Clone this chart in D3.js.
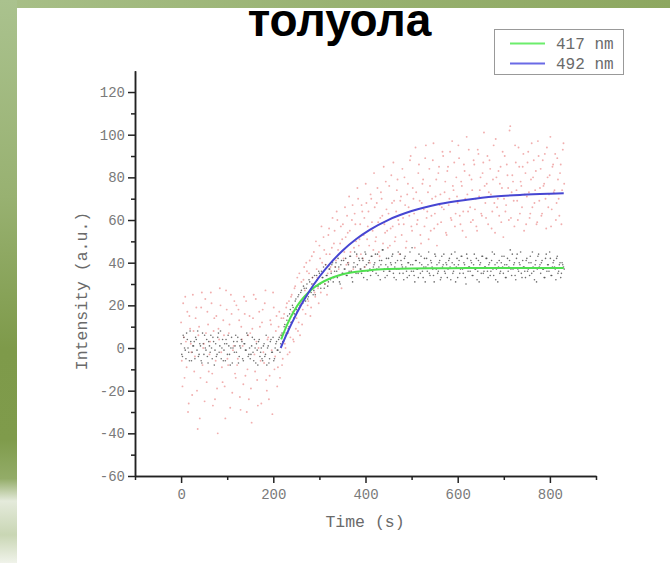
<!DOCTYPE html>
<html><head><meta charset="utf-8">
<script src="https://cdn.jsdelivr.net/npm/d3@7"></script>
<style>body{margin:0;background:#fff}svg{display:block}</style>
</head><body><svg id="c" width="670" height="563"></svg>
<script>
// ---- data ----
const titleText = "толуола";
const xLabel = "Time (s)";
const yLabel = "Intensity (a.u.)";
const legendLabels = ["417 nm", "492 nm"];
const xTicks = [0, 200, 400, 600, 800];
const xMinorTicks = [-100, 100, 300, 500, 700, 900];
const yTicks = [-60, -40, -20, 0, 20, 40, 60, 80, 100, 120];
const yMinorTicks = [-50, -30, -10, 10, 30, 50, 70, 90, 110];

// measured points, one every 3 s; set A starts at 0 s, set B at 1.5 s
const sampleStep = 3, startA = 0, startB = 1.5;
const black417A = [
  2,-4,5,-1,7,0,-6,3,-2,1,
  -5,4,8,-3,1,-7,2,6,-1,-4,
  3,-2,0,5,-8,2,-3,7,1,-5,
  4,-1,-6,2,6,-3,0,-7,3,1,
  -2,5,-4,0,3,-6,2,-1,6,-3,
  -5,1,-2,4,-7,-1,3,-4,0,-6,
  2,-3,-8,1,-5,4,-2,-6,0,3,
  -1,5,2,7,3,11,7,15,10,18,
  12,19,16,23,17,25,20,27,21,28,
  22,30,24,31,26,33,27,25,34,29,
  35,28,33,38,30,34,29,37,32,39,
  31,36,40,33,38,30,41,35,37,42,
  34,39,43,36,31,40,38,44,35,41,
  37,42,33,45,39,36,41,34,43,38,
  40,35,44,38,32,41,46,37,39,34,
  42,36,39,44,33,40,37,45,35,41,
  38,32,43,36,40,34,39,47,36,31,
  41,37,44,35,39,33,42,38,36,45,
  34,40,37,31,43,39,36,41,33,38,
  44,35,39,37,42,32,40,36,45,38,
  33,41,37,43,35,39,30,42,38,36,
  40,34,44,37,32,41,39,35,43,36,
  38,42,33,40,36,45,34,39,37,31,
  41,36,43,35,39,33,42,38,46,34,
  37,40,32,44,36,39,35,41,38,33,
  42,37,34,40,45,36,39,31,43,38,
  35,41,37,33,44,39,36,42,34,40,
  38,32,43,36,40,35,39,37
];
const black417B = [
  -3,6,0,-5,4,-2,8,-6,1,3,
  5,-1,-4,2,-6,7,-3,0,4,-7,
  1,6,-5,3,-1,-4,5,-2,8,0,
  -6,2,4,-3,1,-8,5,0,-2,6,
  3,-7,1,4,-5,2,-1,7,-4,0,
  -3,5,-6,0,2,-8,4,-2,-5,1,
  -4,6,0,-7,3,-2,5,-5,2,-1,
  4,-2,6,3,10,6,13,9,16,12,
  20,14,22,18,24,19,26,22,29,24,
  28,23,32,27,30,25,34,29,32,36,
  30,36,33,28,39,34,31,37,35,40,
  33,38,36,42,31,39,35,41,37,34,
  40,36,43,33,38,45,35,39,42,37,
  35,41,38,44,32,40,37,43,36,39,
  44,37,34,41,39,46,36,33,42,38,
  36,40,43,35,38,32,41,37,44,39,
  35,42,38,33,40,45,36,39,34,41,
  37,33,40,43,36,38,31,42,39,35,
  41,38,34,44,37,35,40,32,43,39,
  36,40,33,41,38,44,35,39,31,42,
  39,35,43,37,40,33,44,36,38,41,
  34,39,37,42,36,31,40,43,35,38,
  42,36,39,34,41,37,44,32,40,38,
  35,40,38,43,33,39,36,41,37,44,
  39,34,42,37,40,45,33,38,36,41,
  36,40,43,35,38,32,41,37,44,39,
  40,37,33,42,36,39,45,34,38,41,
  37,42,35,39,33,40,38
];
const red492A = [
  12,-18,5,24,-9,-30,15,2,-22,8,
  -4,19,-38,10,-14,26,0,-25,7,17,
  -11,3,21,-27,14,-6,-19,9,28,-2,
  -16,6,-33,18,-8,11,25,-21,1,-12,
  20,-5,13,-29,4,-17,16,22,-10,-24,
  7,-35,14,-3,23,-15,0,10,-26,18,
  -7,27,-20,5,-13,11,-31,19,-4,15,
  -9,17,6,-8,14,2,19,-3,22,5,
  25,4,28,9,33,12,6,31,18,38,
  16,36,22,41,19,33,45,24,37,28,
  48,26,40,52,30,44,35,56,38,47,
  33,55,41,60,37,49,28,58,45,52,
  62,40,55,36,67,47,58,43,70,51,
  44,64,53,38,68,57,48,72,59,46,
  66,52,75,45,61,70,49,58,78,55,
  63,48,81,57,69,52,74,60,44,71,
  84,58,67,50,77,62,90,55,70,47,
  73,60,86,53,68,79,57,95,64,51,
  76,62,88,56,71,48,82,67,59,92,
  65,78,53,85,70,61,97,74,57,80,
  68,89,58,76,64,83,52,72,93,66,
  79,60,86,70,55,91,74,63,82,101,
  68,77,58,88,72,64,95,54,80,70,
  62,85,75,52,90,67,81,60,104,73,
  78,57,87,69,94,63,76,85,55,82,
  71,92,61,79,66,88,74,58,97,69,
  84,63,76,91,56,80,72,99,65,86,
  74,60,89,70,82,58,93,77
];
const red492B = [
  -6,21,-14,3,17,-26,9,-2,25,-11,
  14,-20,6,-33,19,-8,2,23,-16,11,
  -3,26,-12,8,-24,15,-40,4,20,-9,
  13,-18,27,-5,7,-28,16,-1,22,-14,
  -8,18,-23,10,1,24,-13,-30,6,15,
  -19,9,25,-11,3,-27,17,-6,12,-2,
  21,-15,4,-24,13,-1,26,-10,8,-18,
  10,-14,14,-5,16,0,21,7,-2,24,
  17,3,29,14,8,35,21,11,32,27,
  40,20,35,15,43,30,26,50,33,21,
  42,57,31,46,39,25,53,44,36,61,
  49,38,64,46,34,57,51,42,66,39,
  54,71,45,60,37,63,50,75,48,58,
  67,42,61,77,51,64,40,70,55,82,
  50,68,59,43,73,62,85,54,65,47,
  76,56,68,87,50,64,79,58,69,53,
  61,80,47,72,66,88,57,75,63,94,
  58,82,69,49,77,65,89,61,73,84,
  55,70,96,63,79,58,85,72,66,90,
  73,54,83,67,92,60,76,87,63,71,
  95,62,78,55,86,70,99,64,81,59,
  74,88,65,57,93,71,80,62,87,76,
  61,90,73,84,56,79,68,98,66,83,
  77,59,92,70,64,86,75,102,61,81,
  69,95,74,60,85,78,66,91,72,58,
  87,73,63,96,80,68,83,59,90,75,
  62,88,77,70,94,66,81,57,85,73,
  91,68,79,62,86,74,96
];

// fitted curves
const fitTime417 = [217,230,245,260,275,290,310,330,355,380,410,450,500,560,620,700,760,830];
const fit417 =     [4.0,11.0,17.4,22.2,25.8,28.6,31.3,33.2,34.8,35.8,36.5,37.0,37.3,37.4,37.5,37.5,37.5,37.5];
const fitTime492 = [216,230,245,260,280,300,325,350,380,410,450,500,560,620,680,740,800,830];
const fit492 =     [0,7.0,13.8,20.0,27.2,33.4,40.0,45.6,51.1,55.5,60.1,64.2,67.5,69.5,71.0,71.8,72.3,72.5];

const colors = {green: "#4fe04f", blue: "#4646d2", black: "#4a4a4a", red: "#ee9a9a"};

// ---- drawing ----
const svg = d3.select("#c");
const defs = svg.append("defs");
const gLeft = defs.append("linearGradient").attr("id","gl").attr("x1",0).attr("y1",0).attr("x2",0).attr("y2",1);
[[0,"#aac28e"],[0.35,"#98b171"],[0.62,"#7e9a4a"],[0.78,"#7f9b4b"],[0.85,"#93ac68"],[0.89,"#e4eadb"],[0.95,"#c9d6b4"],[1,"#f0f3ea"]]
  .forEach(([o,c]) => gLeft.append("stop").attr("offset",o).attr("stop-color",c));
const gTop = defs.append("linearGradient").attr("id","gt").attr("x1",0).attr("y1",0).attr("x2",1).attr("y2",0);
[[0,"#a8bf88"],[0.5,"#99b272"],[1,"#8da760"]]
  .forEach(([o,c]) => gTop.append("stop").attr("offset",o).attr("stop-color",c));

svg.append("rect").attr("width",670).attr("height",563).attr("fill","#fff");

// title
svg.append("text").attr("x",339.5).attr("y",36).attr("text-anchor","middle")
  .attr("font-family","'Liberation Sans', Arial, sans-serif").attr("font-weight","bold")
  .attr("font-size",46).attr("fill","#000").text(titleText);

svg.append("rect").attr("x",0).attr("y",0).attr("width",670).attr("height",8).attr("fill","url(#gt)");
svg.append("rect").attr("x",0).attr("y",0).attr("width",17).attr("height",563).attr("fill","url(#gl)");

const x = d3.scaleLinear().domain([-100, 900]).range([135, 596]);
const y = d3.scaleLinear().domain([-60, 130]).range([476, 70.7]);

const mono = "'Liberation Mono', 'Courier New', monospace";

// scatter
const pts = (arr, start) => arr.map((v,i) => ({t: start + i*sampleStep, v}));
const redPts = pts(red492A, startA).concat(pts(red492B, startB));
const blackPts = pts(black417A, startA).concat(pts(black417B, startB));
svg.append("g").selectAll("circle").data(redPts).join("circle")
  .attr("cx", d => x(d.t)).attr("cy", d => y(d.v)).attr("r", 0.95)
  .attr("fill", colors.red).attr("opacity", 0.8);
svg.append("g").selectAll("circle").data(blackPts).join("circle")
  .attr("cx", d => x(d.t)).attr("cy", d => y(d.v)).attr("r", 0.8)
  .attr("fill", colors.black).attr("opacity", 0.8);

// fits
const line = d3.line().x(d => x(d[0])).y(d => y(d[1])).curve(d3.curveMonotoneX);
svg.append("path").datum(fitTime417.map((t,i)=>[t,fit417[i]])).attr("d", line)
  .attr("fill","none").attr("stroke",colors.green).attr("stroke-width",2);
svg.append("path").datum(fitTime492.map((t,i)=>[t,fit492[i]])).attr("d", line)
  .attr("fill","none").attr("stroke",colors.blue).attr("stroke-width",2);

// axes
function styleAxis(g){
  g.select(".domain").attr("stroke","#222").attr("stroke-width",1.5);
  g.selectAll(".tick line").attr("stroke","#222").attr("stroke-width",1.5);
  g.selectAll(".tick text").attr("fill","#7a7a7a").attr("font-family",mono).attr("font-size",14);
}
const gx = svg.append("g").attr("transform","translate(0,476)")
  .call(d3.axisBottom(x).tickValues(xTicks).tickSize(7).tickSizeOuter(0).tickPadding(6).tickFormat(d3.format("d")));
styleAxis(gx);
const gxm = svg.append("g").attr("transform","translate(0,476)")
  .call(d3.axisBottom(x).tickValues(xMinorTicks).tickSize(4).tickSizeOuter(0).tickFormat(""));
styleAxis(gxm);
const gy = svg.append("g").attr("transform","translate(135,0)")
  .call(d3.axisLeft(y).tickValues(yTicks).tickSize(7).tickSizeOuter(0).tickPadding(3).tickFormat(d3.format("d")));
styleAxis(gy);
gy.selectAll(".tick text").text(d => d < 0 ? "-" + Math.abs(d) : d);
const gym = svg.append("g").attr("transform","translate(135,0)")
  .call(d3.axisLeft(y).tickValues(yMinorTicks).tickSize(4).tickSizeOuter(0).tickFormat(""));
styleAxis(gym);

svg.append("text").attr("x",365).attr("y",527).attr("text-anchor","middle")
  .attr("font-family",mono).attr("font-size",16.5).attr("fill","#6a6a6a").text(xLabel);
svg.append("text").attr("transform","translate(87,291) rotate(-90)").attr("text-anchor","middle")
  .attr("font-family",mono).attr("font-size",16.5).attr("fill","#6a6a6a").text(yLabel);

// legend
const lg = svg.append("g");
lg.append("rect").attr("x",494.5).attr("y",29.5).attr("width",129).attr("height",45)
  .attr("fill","#fff").attr("stroke","#999").attr("stroke-width",1);
const legendColors = ["#6ced6c", "#6a6ae6"];
legendLabels.forEach((lab,i) => {
  const yy = 43.5 + i*20;
  lg.append("line").attr("x1",510).attr("x2",545).attr("y1",yy).attr("y2",yy)
    .attr("stroke",legendColors[i]).attr("stroke-width",2);
  lg.append("text").attr("x",556).attr("y",yy+5.5).attr("font-family",mono).attr("font-size",16)
    .attr("fill","#6a6a6a").text(lab);
});
</script></body></html>
